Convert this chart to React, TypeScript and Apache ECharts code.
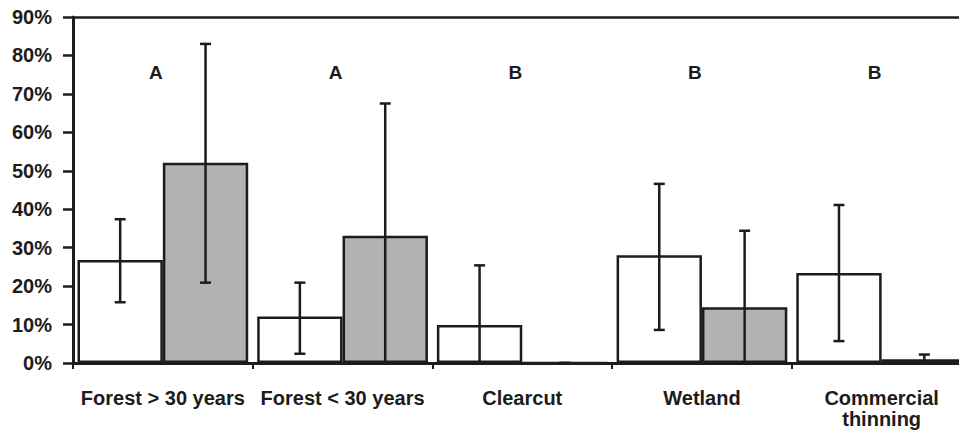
import React, { useEffect, useRef } from "react";
import * as echarts from "echarts";

const categories = ["Forest > 30 years", "Forest < 30 years", "Clearcut", "Wetland", "Commercial\nthinning"];
const openValues = [26.8, 12.1, 9.9, 28.0, 23.4];
const openLow = [15.8, 2.4, 0, 8.6, 5.7];
const openHigh = [37.4, 20.9, 25.4, 46.6, 41.1];
const grayValues = [52.1, 33.1, 0, 14.5, 1.0];
const grayLow = [20.9, 0, 0, 0, 0];
const grayHigh = [83.0, 67.5, 0, 34.4, 2.2];
const letters = ["A", "A", "B", "B", "B"];
const letterLevel = 75.6;
const yTicks = [0, 10, 20, 30, 40, 50, 60, 70, 80, 90];

const INK = "#1c1c1c";
const FONT = '"Liberation Sans", Arial, Helvetica, sans-serif';

function errorRenderer(side: number) {
  return (params: any, api: any) => {
    const idx = api.value(0);
    const low = api.coord([idx, api.value(1)]);
    const high = api.coord([idx, api.value(2)]);
    const band = api.size([1, 0])[0];
    const bw = (band * 0.95) / 2;
    const x = low[0] + (side * bw) / 2;
    const half = 5.5;
    const style = { stroke: INK, lineWidth: 2.5, fill: "none" };
    return {
      type: "group",
      children: [
        { type: "line", shape: { x1: x, y1: high[1], x2: x, y2: low[1] }, style },
        { type: "line", shape: { x1: x - half, y1: high[1], x2: x + half, y2: high[1] }, style },
        { type: "line", shape: { x1: x - half, y1: low[1], x2: x + half, y2: low[1] }, style },
      ],
    };
  };
}

function letterRenderer(params: any, api: any) {
  const p = api.coord([api.value(0), api.value(1)]);
  return {
    type: "text",
    x: p[0] - 7,
    y: p[1],
    style: {
      text: letters[params.dataIndex],
      fill: INK,
      font: `bold 19px ${FONT}`,
      align: "center",
      verticalAlign: "middle",
    },
  };
}

export default function App() {
  const ref = useRef<HTMLDivElement>(null);
  useEffect(() => {
    if (!ref.current) return;
    const chart = echarts.init(ref.current, null, { renderer: "svg" });
    chart.setOption({
      animation: false,
      backgroundColor: "#ffffff",
      grid: {
        left: 73,
        top: 17,
        bottom: 67,
        width: 898.5,
        containLabel: false,
        outerBoundsMode: "none",
      },
      xAxis: {
        type: "category",
        data: categories,
        position: "bottom",
        axisLine: { show: true, lineStyle: { color: INK, width: 3 } },
        axisTick: { show: true, alignWithLabel: false, length: 6, lineStyle: { color: INK, width: 2 } },
        axisLabel: {
          color: INK,
          fontFamily: FONT,
          fontWeight: "bold",
          fontSize: 20,
          lineHeight: 21,
          margin: 24,
          interval: 0,
        },
      },
      yAxis: {
        type: "value",
        min: yTicks[0],
        max: yTicks[yTicks.length - 1],
        interval: 10,
        axisLine: { show: true, lineStyle: { color: INK, width: 3 } },
        axisTick: { show: true, length: 10, lineStyle: { color: INK, width: 2.5 } },
        splitLine: {
          show: true,
          lineStyle: {
            width: 2.5,
            color: yTicks.map((_, i) => (i === yTicks.length - 1 ? INK : "rgba(0,0,0,0)")),
          },
        },
        axisLabel: {
          color: INK,
          fontFamily: FONT,
          fontWeight: "bold",
          fontSize: 20,
          margin: 21,
          formatter: "{value}%",
        },
      },
      series: [
        {
          type: "bar",
          name: "open",
          data: openValues,
          barGap: "0%",
          barCategoryGap: "5%",
          itemStyle: { color: "#ffffff", borderColor: INK, borderWidth: 2.5 },
          z: 2,
        },
        {
          type: "bar",
          name: "gray",
          data: grayValues,
          barGap: "0%",
          barCategoryGap: "5%",
          itemStyle: { color: "#b2b2b2", borderColor: INK, borderWidth: 2.5 },
          z: 2,
        },
        {
          type: "custom",
          name: "openErr",
          data: openLow.map((l, i) => [i, l, openHigh[i]]),
          encode: { x: 0, y: [1, 2] },
          renderItem: errorRenderer(-1),
          z: 5,
        },
        {
          type: "custom",
          name: "grayErr",
          data: grayLow.map((l, i) => [i, l, grayHigh[i]]),
          encode: { x: 0, y: [1, 2] },
          renderItem: errorRenderer(1),
          z: 5,
        },
        {
          type: "custom",
          name: "letters",
          data: letters.map((_, i) => [i, letterLevel]),
          encode: { x: 0, y: 1 },
          renderItem: letterRenderer,
          z: 6,
        },
      ],
    });
    return () => chart.dispose();
  }, []);
  return (
    <div
      ref={ref}
      style={{ position: "fixed", left: 0, top: 0, width: 959, height: 430, overflow: "hidden" }}
    />
  );
}
